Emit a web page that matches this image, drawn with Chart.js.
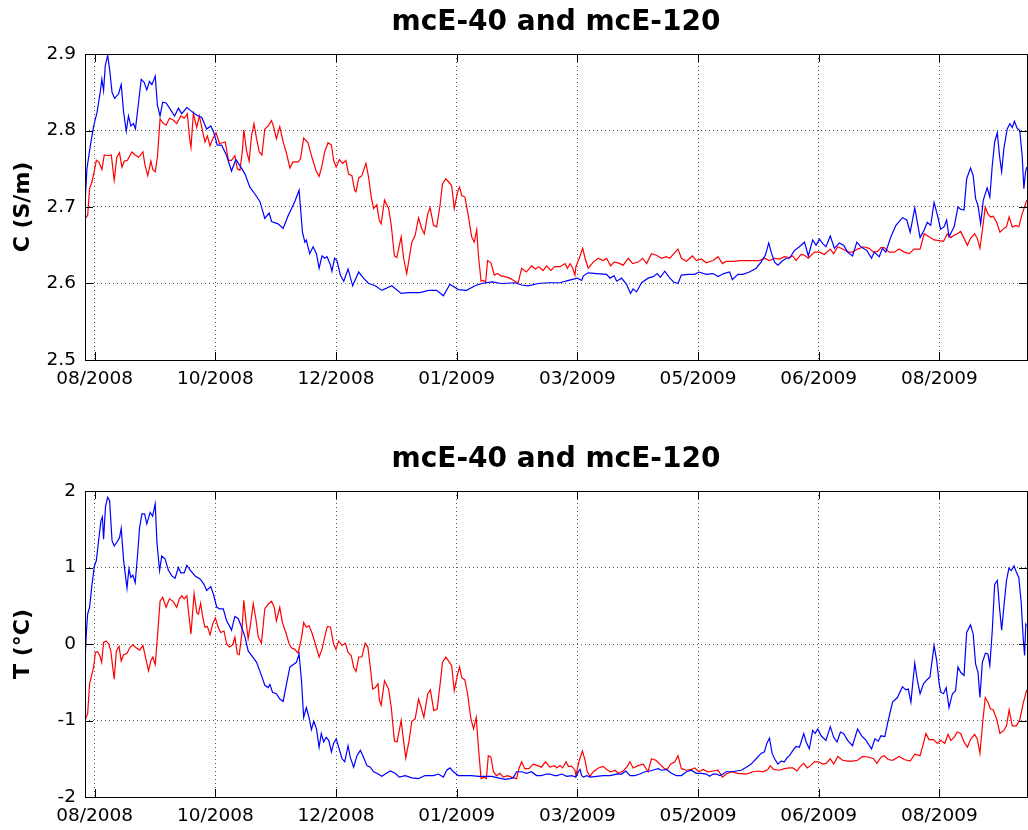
<!DOCTYPE html>
<html>
<head>
<meta charset="utf-8">
<title>mcE-40 and mcE-120</title>
<script src="https://cdn.jsdelivr.net/npm/chart.js@4.4.1/dist/chart.umd.min.js"></script>
<style>
  html, body { margin: 0; padding: 0; background: #fff; overflow: hidden; }
  #wrap { position: relative; width: 1028px; height: 830px; overflow: hidden; }
  #wrap canvas { position: absolute; left: 0; }
</style>
</head>
<body>
<div id="wrap">
  <canvas id="condChart" width="1028" height="437" style="top:0"></canvas>
  <canvas id="tempChart" width="1028" height="437" style="top:437px"></canvas>
</div>
<script>
// x axis: days from the first tick, ticks every 50 days
const xTickDays = [0, 50, 100, 150, 200, 250, 300, 350];
const xTickLabels = ['08/2008', '10/2008', '12/2008', '01/2009', '03/2009', '05/2009', '06/2009', '08/2009'];

const cTicks = [2.5, 2.6, 2.7, 2.8, 2.9];
const cTickLabels = ['2.5', '2.6', '2.7', '2.8', '2.9'];
const tTicks = [-2, -1, 0, 1, 2];
const tTickLabels = ['-2', '-1', '0', '1', '2'];

// Conductivity, mcE-40 (blue)
const cDays40 = [-3.9,-3.2,-1.8,-0.4,1.0,2.3,3.0,3.7,4.4,5.4,6.2,7.2,8.3,9.9,11.0,12.0,13.1,14.0,15.0,16.1,16.9,18.2,19.3,20.5,21.6,22.7,23.7,25.1,26.0,27.1,28.2,29.6,31.3,33.1,34.7,36.1,38.2,40.2,42.3,44.4,46.4,48.1,49.4,50.8,52.6,54.7,56.7,58.5,60.2,62.3,64.3,66.4,68.5,70.5,72.3,73.3,76.0,78.1,80.2,82.9,84.7,86.1,87.1,87.7,89.1,90.5,91.9,93.0,
  94.2,95.3,96.3,97.7,98.3,99.4,100.4,101.8,103.2,105.0,106.9,109.4,111.4,113.5,116.3,119.0,123.1,127.0,130.0,134.8,138.3,141.7,144.5,147.2,150.7,154.1,157.6,160.3,164.5,168.6,174.1,176.9,179.6,183.7,187.9,190.6,
  192.8,196.3,200,201.8,202.5,204.5,208.0,212.1,213.5,215.2,216.3,218.3,220.4,222.0,223.1,224.5,226.6,229.3,231.4,233.1,234.4,236.2,238.3,239.9,241.7,243.1,245.9,248.6,250.4,253.4,256.2,258.3,260.6,263.1,264.2,266.5,268.6,271.3,274.1,276.1,277.9,279.3,280.3,281.7,283.1,284.8,286.5,287.9,
  289.9,292.0,294.1,295.7,297.5,298.9,300.3,301.7,303.0,304.8,306.5,308.5,310.3,312.0,314.0,315.8,317.5,320.0,321.9,323.0,325.1,326.4,327.8,329.9,332.0,334.7,336.5,337.9,339.8,342.0,343.7,345.0,346.4,347.8,349.2,350.5,351.9,353.0,354.0,356.1,357.7,358.8,360.2,361.3,362.9,364.0,365.0,366.0,367.1,368.2,369.8,370.9,371.9,372.9,374.0,374.9,375.8,376.7,378.1,379.2,380.2,381.1,382.2,383.3,384.3,385.0,385.7,386.2];
const cVals40 = [2.71,2.75,2.78,2.806,2.824,2.85,2.867,2.852,2.885,2.898,2.88,2.85,2.842,2.848,2.86,2.824,2.799,2.819,2.806,2.809,2.802,2.837,2.867,2.863,2.853,2.864,2.86,2.871,2.833,2.819,2.837,2.836,2.828,2.819,2.829,2.822,2.83,2.825,2.82,2.817,2.802,2.806,2.797,2.781,2.781,2.767,2.747,2.762,2.754,2.743,2.726,2.717,2.707,2.685,2.692,2.681,2.678,2.672,2.689,2.707,2.722,2.667,2.654,2.657,2.639,2.648,2.639,2.62,
  2.636,2.633,2.635,2.624,2.616,2.633,2.63,2.611,2.603,2.619,2.597,2.615,2.607,2.6,2.597,2.591,2.597,2.587,2.588,2.588,2.591,2.591,2.584,2.599,2.592,2.591,2.597,2.6,2.602,2.6,2.601,2.598,2.597,2.6,2.601,2.601,
  2.601,2.604,2.607,2.604,2.61,2.614,2.613,2.612,2.607,2.61,2.603,2.607,2.599,2.587,2.593,2.589,2.601,2.607,2.609,2.613,2.608,2.616,2.607,2.602,2.6,2.611,2.612,2.612,2.615,2.612,2.613,2.609,2.613,2.615,2.605,2.612,2.612,2.615,2.62,2.628,2.637,2.653,2.641,2.628,2.624,2.629,2.633,2.633,
  2.643,2.648,2.654,2.636,2.657,2.65,2.658,2.652,2.648,2.662,2.646,2.653,2.65,2.641,2.636,2.654,2.648,2.643,2.633,2.641,2.635,2.646,2.641,2.661,2.676,2.686,2.683,2.667,2.699,2.66,2.67,2.68,2.676,2.706,2.689,2.671,2.674,2.683,2.661,2.674,2.7,2.697,2.696,2.737,2.751,2.741,2.711,2.702,2.678,2.709,2.725,2.713,2.754,2.785,2.797,2.767,2.746,2.776,2.802,2.809,2.804,2.812,2.803,2.8,2.767,2.724,2.746,2.752];

// Conductivity, mcE-120 (red)
const cDays120 = [-3.9,-2.9,-2.1,-1.1,-0.4,0.7,1.7,3.0,4.0,5.8,6.9,7.4,8.1,9.2,10.3,11.3,12.3,13.6,15.4,16.8,18.2,20.0,20.9,22.0,23.3,24.1,25.1,26.0,27.1,28.2,29.6,31.0,32.4,34.0,35.7,37.1,38.4,39.3,39.9,40.9,42.3,43.4,44.8,45.7,46.7,47.8,48.9,50.3,51.7,53.0,54.1,55.4,56.7,58.1,59.1,60.2,61.2,61.8,62.9,64.0,65.0,66.0,67.1,68.2,69.3,70.5,71.9,73.3,74.2,75.3,76.7,78.1,79.5,80.9,82.2,84.3,85.3,86.6,88.4,90.2,91.9,93.0,
  94.2,95.3,96.7,98.1,99.0,100.1,101.4,102.8,104.1,105.2,106.6,107.7,108.3,109.4,110.7,112.4,113.5,114.6,115.6,116.9,117.9,118.7,120.1,121.8,122.9,124.2,125.2,127.0,128.0,129.3,131.4,132.8,134.2,135.5,136.6,138.0,139.0,140.4,141.7,143.1,144.1,145.5,146.6,147.9,149.0,150.4,151.2,152.1,153.4,154.8,156.2,157.3,158.3,159.0,160.1,161.0,162.0,162.8,164.2,165.6,166.9,168.3,170.0,172.0,174.1,175.5,176.9,178.9,181.0,182.6,184.0,185.8,187.2,189.0,190.6,
  192.8,194.9,195.9,197.0,198.1,199.0,199.4,200.8,202.2,203.2,204.5,206.6,208.7,210.7,212.1,213.8,215.2,216.9,219.0,221.1,222.9,225.2,227.0,228.7,230.7,232.8,234.8,236.9,238.3,239.7,241.7,243.1,245.2,247.7,249.3,251.4,253.4,256.2,258.3,260.1,261.7,264.5,267.2,270.0,272.7,275.5,277.5,279.6,281.7,283.7,285.8,287.9,
  289.3,290.6,292.7,294.1,295.7,298.2,300.3,302.3,304.8,306.2,307.9,309.9,312.3,314.0,316.1,318.6,320.9,322.7,324.4,325.8,327.1,329.2,331.3,333.3,335.4,337.5,339.5,342.0,343.7,345.7,347.8,349.9,351.7,353.3,354.7,356.1,357.4,358.8,360.2,361.6,362.9,364.6,365.7,366.8,367.9,369.0,370.1,371.2,372.3,373.7,375.1,376.7,377.8,378.9,380.2,381.9,382.9,384.3,386.2];
const cVals120 = [2.685,2.689,2.724,2.733,2.743,2.761,2.759,2.749,2.768,2.767,2.768,2.754,2.735,2.765,2.771,2.752,2.76,2.761,2.772,2.768,2.765,2.772,2.754,2.741,2.76,2.749,2.746,2.765,2.815,2.81,2.807,2.816,2.814,2.809,2.819,2.816,2.822,2.791,2.778,2.822,2.804,2.819,2.798,2.785,2.793,2.78,2.789,2.797,2.783,2.784,2.785,2.761,2.761,2.767,2.75,2.748,2.773,2.801,2.774,2.76,2.793,2.809,2.789,2.772,2.768,2.802,2.806,2.813,2.804,2.789,2.805,2.785,2.77,2.751,2.759,2.759,2.763,2.79,2.784,2.763,2.746,2.74,
  2.754,2.772,2.784,2.781,2.761,2.752,2.762,2.757,2.761,2.743,2.741,2.722,2.72,2.738,2.741,2.757,2.739,2.713,2.698,2.703,2.683,2.678,2.709,2.698,2.676,2.636,2.634,2.661,2.633,2.613,2.654,2.663,2.686,2.672,2.665,2.691,2.699,2.676,2.674,2.702,2.73,2.737,2.733,2.728,2.698,2.72,2.726,2.715,2.713,2.689,2.661,2.654,2.67,2.637,2.603,2.604,2.602,2.63,2.627,2.611,2.613,2.61,2.609,2.607,2.603,2.601,2.62,2.615,2.623,2.619,2.622,2.617,2.623,2.617,2.622,
  2.622,2.626,2.62,2.626,2.62,2.611,2.622,2.633,2.646,2.633,2.62,2.628,2.633,2.63,2.633,2.623,2.628,2.627,2.624,2.633,2.626,2.628,2.633,2.626,2.639,2.637,2.633,2.635,2.633,2.638,2.645,2.633,2.629,2.636,2.63,2.632,2.627,2.63,2.635,2.626,2.629,2.629,2.63,2.63,2.63,2.63,2.633,2.63,2.633,2.632,2.635,2.634,
  2.636,2.63,2.638,2.637,2.633,2.641,2.641,2.638,2.645,2.639,2.648,2.645,2.641,2.641,2.645,2.648,2.646,2.641,2.642,2.647,2.647,2.641,2.641,2.645,2.641,2.639,2.645,2.645,2.665,2.661,2.657,2.656,2.655,2.665,2.66,2.663,2.665,2.668,2.659,2.65,2.659,2.665,2.659,2.646,2.672,2.7,2.691,2.687,2.688,2.68,2.667,2.672,2.674,2.687,2.674,2.676,2.674,2.691,2.709];

// Temperature, mcE-40 (blue)
const tDays40 = [-3.9,-3.4,-2.9,-2.1,-1.1,-0.1,0.7,1.7,2.6,3.2,3.7,4.5,5.4,6.2,7.2,8.1,9.2,10.3,11.0,12.0,12.7,13.4,14.2,15.0,15.8,16.8,17.8,18.6,19.6,20.7,21.6,23.0,24.0,25.1,25.8,26.9,27.8,29.2,30.6,32.0,33.3,34.7,35.7,37.1,38.2,39.5,41.6,43.7,45.3,46.4,48.1,49.2,50.6,51.9,53.3,54.7,55.8,56.7,58.1,59.5,60.9,62.3,63.6,65.0,67.1,69.1,70.5,71.9,72.6,73.7,75.3,76.7,78.1,79.5,80.9,82.2,83.6,84.7,85.7,86.6,87.7,88.8,89.8,90.8,91.9,93.0,
  93.9,94.9,95.9,97.0,98.1,99.0,100.1,101.1,102.5,103.6,105.0,105.9,107.3,108.7,110.1,111.4,112.8,114.2,115.6,116.9,119.0,120.4,122.5,124.5,126.2,128.7,131.4,134.2,136.9,140.4,142.4,144.5,145.9,147.2,148.6,150.7,153.4,156.2,159.0,161.7,164.5,167.2,170.0,172.0,173.4,174.8,176.9,178.9,181.0,183.1,185.1,187.2,188.6,190.6,
  191.5,193.5,195.6,197.7,199.4,200.4,201.1,201.8,202.5,203.9,205.2,208.0,210.7,213.5,216.3,218.3,220.1,221.8,223.8,225.9,228.0,230.0,232.1,233.5,234.8,236.9,239.0,241.0,243.1,245.2,247.2,249.3,251.4,253.4,254.8,256.2,257.6,259.0,260.3,261.7,263.8,265.8,267.9,270.0,272.0,274.1,276.1,277.5,278.5,279.6,280.7,281.7,283.1,284.4,285.8,286.8,287.9,
  289.3,290.6,292.0,293.8,294.8,296.1,297.5,298.5,299.6,301.0,303.0,304.8,306.2,307.6,309.0,310.3,312.0,314.0,316.1,317.8,319.6,321.9,323.3,324.7,325.8,327.4,328.8,330.6,332.6,334.7,336.1,337.1,338.2,339.8,340.9,342.0,343.4,344.8,346.1,347.8,348.9,349.9,350.6,351.7,352.8,354.0,355.4,356.7,357.7,358.8,360.2,361.3,362.9,364.0,365.0,366.0,366.8,367.8,369.1,370.1,370.9,371.9,372.9,374.0,374.9,375.8,376.7,377.8,378.8,379.8,380.9,382.0,382.9,383.9,384.7,385.3,385.8,386.2];
const tVals40 = [-0.17,0.17,0.39,0.48,0.78,1.02,1.09,1.37,1.61,1.66,1.37,1.80,1.92,1.87,1.35,1.28,1.33,1.39,1.51,1.09,0.91,0.73,0.98,0.87,0.90,0.80,1.17,1.52,1.70,1.70,1.57,1.72,1.67,1.83,1.33,0.96,1.15,1.11,0.96,0.89,0.86,1.00,0.93,0.93,1.03,0.97,0.89,0.85,0.78,0.70,0.75,0.65,0.48,0.46,0.46,0.30,0.24,0.18,0.36,0.33,0.22,0.09,-0.09,-0.15,-0.24,-0.41,-0.54,-0.57,-0.53,-0.63,-0.65,-0.72,-0.75,-0.52,-0.30,-0.27,-0.24,-0.13,-0.48,-0.96,-0.83,-0.96,-1.12,-1.01,-1.11,-1.35,
  -1.17,-1.28,-1.22,-1.26,-1.41,-1.30,-1.24,-1.35,-1.50,-1.54,-1.33,-1.48,-1.61,-1.46,-1.39,-1.48,-1.59,-1.61,-1.67,-1.69,-1.73,-1.70,-1.66,-1.69,-1.74,-1.72,-1.75,-1.76,-1.72,-1.72,-1.70,-1.74,-1.65,-1.62,-1.67,-1.72,-1.72,-1.72,-1.73,-1.73,-1.73,-1.75,-1.77,-1.76,-1.75,-1.67,-1.67,-1.69,-1.67,-1.72,-1.72,-1.70,-1.70,-1.72,
  -1.72,-1.70,-1.73,-1.72,-1.74,-1.67,-1.64,-1.72,-1.74,-1.72,-1.74,-1.73,-1.72,-1.72,-1.70,-1.70,-1.66,-1.72,-1.72,-1.70,-1.67,-1.66,-1.64,-1.63,-1.65,-1.64,-1.69,-1.72,-1.72,-1.67,-1.65,-1.69,-1.69,-1.70,-1.73,-1.70,-1.70,-1.72,-1.70,-1.67,-1.67,-1.66,-1.65,-1.61,-1.57,-1.50,-1.43,-1.41,-1.30,-1.23,-1.43,-1.50,-1.57,-1.53,-1.54,-1.49,-1.46,
  -1.39,-1.34,-1.35,-1.17,-1.28,-1.37,-1.13,-1.17,-1.11,-1.20,-1.26,-1.08,-1.22,-1.28,-1.15,-1.17,-1.26,-1.33,-1.11,-1.20,-1.26,-1.37,-1.24,-1.27,-1.20,-1.21,-1.00,-0.76,-0.70,-0.56,-0.60,-0.59,-0.76,-0.25,-0.48,-0.65,-0.52,-0.47,-0.43,-0.02,-0.22,-0.52,-0.63,-0.65,-0.57,-0.83,-0.65,-0.61,-0.30,-0.37,-0.41,0.15,0.25,0.13,-0.26,-0.37,-0.70,-0.24,-0.12,-0.13,-0.28,0.17,0.78,0.83,0.48,0.18,0.48,0.83,0.99,0.96,1.02,0.93,0.87,0.54,0.09,-0.15,0.26,0.24];

// Temperature, mcE-120 (red)
const tDays120 = [-3.9,-2.9,-2.1,-1.4,-0.4,0.3,1.2,2.1,2.9,3.7,4.8,5.8,6.7,7.4,8.1,9.0,10.1,11.0,12.0,13.4,14.7,15.8,17.2,18.6,20.0,20.9,22.3,23.3,24.1,25.1,26.0,27.1,28.2,29.6,31.0,32.4,34.0,35.1,36.1,37.1,38.2,39.3,39.9,41.2,42.3,43.0,43.9,44.8,45.7,46.7,47.8,48.9,50.0,51.2,52.2,53.6,54.7,55.8,57.2,58.1,59.1,59.9,60.9,61.8,62.7,63.6,64.6,65.7,66.7,67.8,69.1,70.5,71.9,73.3,74.4,75.3,76.7,77.8,79.2,80.6,81.5,82.9,84.3,85.7,86.6,87.7,88.8,90.2,91.6,93.0,
  94.2,95.3,96.4,97.7,99.0,100.0,101.1,102.5,103.9,105.0,106.3,107.3,108.3,109.4,110.7,112.1,113.2,114.2,115.2,116.3,117.4,118.0,118.7,120.1,121.8,122.9,124.2,125.3,127.0,127.8,128.9,130.3,131.4,132.8,134.2,135.3,136.4,138.0,139.1,140.5,141.9,143.3,144.1,145.5,146.6,147.9,149.0,150.4,151.2,152.1,153.4,154.5,155.9,157.0,158.1,159.0,160.1,161.4,162.3,163.1,164.2,165.2,166.5,167.9,169.3,171.1,172.7,174.8,175.8,176.9,178.2,179.9,181.7,183.5,185.1,186.8,188.6,190.6,
  191.5,192.8,193.9,195.3,196.3,197.7,199.0,199.4,200.8,202.1,203.2,204.1,205.2,206.6,208.7,210.7,212.1,213.8,215.6,216.9,219.0,220.7,221.8,223.1,225.2,227.3,229.3,230.7,232.5,234.2,235.8,237.2,238.6,240.4,241.7,243.1,245.2,247.2,248.6,250.4,252.1,254.1,256.2,258.3,260.1,261.7,263.8,266.5,270.0,272.7,274.8,276.9,278.9,279.9,281.3,283.7,285.8,287.9,
  289.3,291.0,292.4,293.8,295.2,296.6,298.2,300.0,301.7,303.0,304.8,306.2,307.9,309.9,312.0,314.0,316.1,318.2,320.9,322.7,324.1,325.8,327.1,328.8,330.6,333.3,335.4,337.9,339.8,342.0,343.4,344.4,345.7,347.5,349.2,350.6,352.2,353.6,354.7,356.1,357.4,358.8,360.2,361.6,362.9,364.6,365.7,366.8,367.9,369.0,370.1,371.2,372.3,373.7,375.1,376.7,377.8,378.9,380.2,381.9,383.3,384.7,386.2];
const tVals120 = [-0.99,-0.91,-0.52,-0.43,-0.30,-0.11,-0.10,-0.15,-0.24,0.02,0.04,0.00,-0.09,-0.28,-0.46,-0.09,-0.03,-0.22,-0.14,-0.12,-0.04,-0.01,-0.05,-0.08,-0.02,-0.15,-0.35,-0.22,-0.17,-0.27,0.09,0.56,0.61,0.48,0.59,0.56,0.48,0.59,0.63,0.59,0.63,0.30,0.13,0.66,0.41,0.39,0.53,0.35,0.22,0.23,0.12,0.26,0.34,0.22,0.15,0.17,0.00,-0.04,-0.01,0.09,-0.13,-0.14,0.11,0.57,0.30,0.07,0.26,0.53,0.35,0.09,0.01,0.46,0.52,0.56,0.48,0.30,0.48,0.28,0.15,0.00,-0.05,-0.07,-0.12,0.08,0.28,0.22,0.24,0.13,-0.02,-0.17,
  -0.07,0.09,0.23,0.22,0.00,-0.07,0.04,-0.02,0.01,-0.11,-0.15,-0.30,-0.36,-0.17,-0.17,0.01,-0.04,-0.30,-0.59,-0.57,-0.52,-0.74,-0.80,-0.48,-0.59,-0.83,-1.27,-1.28,-1.00,-1.22,-1.49,-1.26,-1.01,-0.98,-0.72,-0.83,-0.96,-0.65,-0.60,-0.87,-0.85,-0.48,-0.24,-0.17,-0.22,-0.28,-0.61,-0.39,-0.30,-0.44,-0.47,-0.65,-0.98,-1.11,-0.96,-1.35,-1.76,-1.74,-1.76,-1.46,-1.48,-1.67,-1.72,-1.69,-1.74,-1.72,-1.74,-1.76,-1.63,-1.54,-1.63,-1.63,-1.57,-1.59,-1.61,-1.54,-1.61,-1.59,
  -1.62,-1.59,-1.62,-1.54,-1.60,-1.60,-1.65,-1.72,-1.52,-1.40,-1.52,-1.67,-1.73,-1.67,-1.62,-1.60,-1.64,-1.67,-1.65,-1.69,-1.66,-1.60,-1.54,-1.62,-1.59,-1.57,-1.67,-1.50,-1.52,-1.57,-1.62,-1.64,-1.57,-1.54,-1.46,-1.63,-1.65,-1.64,-1.62,-1.67,-1.64,-1.67,-1.66,-1.65,-1.74,-1.70,-1.67,-1.69,-1.70,-1.67,-1.66,-1.67,-1.64,-1.59,-1.64,-1.65,-1.63,-1.62,
  -1.62,-1.66,-1.60,-1.56,-1.62,-1.59,-1.54,-1.54,-1.57,-1.56,-1.50,-1.57,-1.47,-1.52,-1.53,-1.53,-1.52,-1.47,-1.48,-1.50,-1.56,-1.48,-1.46,-1.51,-1.52,-1.47,-1.51,-1.53,-1.44,-1.46,-1.30,-1.17,-1.25,-1.25,-1.30,-1.26,-1.30,-1.18,-1.26,-1.22,-1.15,-1.17,-1.28,-1.35,-1.25,-1.18,-1.24,-1.43,-1.04,-0.70,-0.76,-0.85,-0.86,-0.98,-1.17,-1.13,-1.07,-0.86,-1.07,-1.07,-0.99,-0.78,-0.60];

const FONT = "'DejaVu Sans', 'Liberation Sans', sans-serif";

function toPoints(days, vals) {
    return days.map((d, i) => ({ x: d, y: vals[i] }));
}

// Box round the plot area with MATLAB-style inward tick marks
const axesBox = {
    id: 'axesBox',
    afterDraw(chart) {
        const { ctx, chartArea: a, scales } = chart;
        ctx.save();
        ctx.strokeStyle = '#000';
        ctx.lineWidth = 1;
        ctx.strokeRect(Math.round(a.left) + 0.5, Math.round(a.top) + 0.5,
            Math.round(a.right - a.left), Math.round(a.bottom - a.top));
        ctx.beginPath();
        scales.x.ticks.forEach(t => {
            const px = Math.round(scales.x.getPixelForValue(t.value)) + 0.5;
            ctx.moveTo(px, a.bottom); ctx.lineTo(px, a.bottom - 8);
            ctx.moveTo(px, a.top); ctx.lineTo(px, a.top + 8);
        });
        scales.y.ticks.forEach(t => {
            const py = Math.round(scales.y.getPixelForValue(t.value)) + 0.5;
            ctx.moveTo(a.left, py); ctx.lineTo(a.left + 8, py);
            ctx.moveTo(a.right, py); ctx.lineTo(a.right - 8, py);
        });
        ctx.stroke();
        ctx.restore();
    }
};

function makeChart(canvasId, yTitle, yTicks, yLabels, blue, red) {
    const ctx = document.getElementById(canvasId);
    return new Chart(ctx, {
        type: 'line',
        data: {
            datasets: [
                { label: 'mcE-40', data: blue, borderColor: '#0000ff', borderWidth: 1.2, pointRadius: 0, fill: false, tension: 0 },
                { label: 'mcE-120', data: red, borderColor: '#ff0000', borderWidth: 1.2, pointRadius: 0, fill: false, tension: 0 }
            ]
        },
        options: {
            responsive: false,
            animation: false,
            devicePixelRatio: 1,
            layout: { padding: { left: 0, right: 1, top: 0, bottom: 0 } },
            plugins: {
                legend: { display: false },
                tooltip: { enabled: false },
                title: {
                    display: true,
                    text: 'mcE-40 and mcE-120',
                    fullSize: false,
                    color: '#000',
                    font: { family: FONT, size: 28, weight: 'bold' },
                    padding: { top: 6, bottom: 14.4 }
                }
            },
            scales: {
                x: {
                    type: 'linear',
                    min: -4,
                    max: 386.3,
                    afterBuildTicks: s => { s.ticks = xTickDays.map(v => ({ value: v })); },
                    afterFit: s => { s.height = 77; },
                    ticks: {
                        callback: (v, i) => xTickLabels[i],
                        color: '#000',
                        font: { family: FONT, size: 18.5 },
                        padding: 8,
                        maxRotation: 0,
                        autoSkip: false
                    },
                    grid: { color: '#555', lineWidth: 1, drawTicks: false },
                    border: { display: false, dash: [1, 3] }
                },
                y: {
                    min: yTicks[0],
                    max: yTicks[yTicks.length - 1],
                    afterBuildTicks: s => { s.ticks = yTicks.map(v => ({ value: v })); },
                    afterFit: s => { s.width = 85; },
                    ticks: {
                        callback: (v, i) => yLabels[i],
                        color: '#000',
                        font: { family: FONT, size: 18.5 },
                        padding: 9
                    },
                    grid: { color: '#555', lineWidth: 1, drawTicks: false },
                    border: { display: false, dash: [1, 3] },
                    title: {
                        display: true,
                        text: yTitle,
                        color: '#000',
                        font: { family: FONT, size: 22, weight: 'bold' },
                        padding: { top: 10, bottom: 0 }
                    }
                }
            }
        },
        plugins: [axesBox]
    });
}

makeChart('condChart', 'C (S/m)', cTicks, cTickLabels, toPoints(cDays40, cVals40), toPoints(cDays120, cVals120));
makeChart('tempChart', 'T (\u00B0C)', tTicks, tTickLabels, toPoints(tDays40, tVals40), toPoints(tDays120, tVals120));
</script>
</body>
</html>
